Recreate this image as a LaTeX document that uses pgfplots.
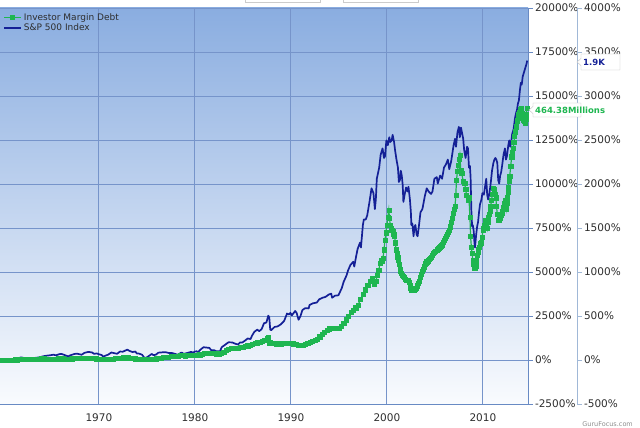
\documentclass[border=0pt]{standalone}
\usepackage{fontspec}
\setmainfont{DejaVu Sans}
\usepackage{pgfplots}
\usepackage{pgfplotstable}
\pgfplotsset{compat=1.18}
\pgfkeys{/pgf/number format/.cd, 1000 sep={}, assume math mode=true}
\definecolor{bgtop}{RGB}{138,173,224}
\definecolor{bgbot}{RGB}{249,251,254}
\definecolor{gridc}{RGB}{118,148,202}
\definecolor{axisc}{RGB}{104,138,196}
\definecolor{raxisc}{RGB}{160,184,215}
\definecolor{spblue}{RGB}{20,32,150}
\definecolor{mdgreen}{RGB}{30,182,80}
\definecolor{txt}{RGB}{45,45,45}
\newcommand\lbl{\fontsize{10.5}{12}\selectfont}

% S&P 500 index level (monthly avg); chart shows % change vs 55.1
\pgfplotstableread{
year idx
1959.7 57.0
1959.9 58.0
1960.1 57.5
1960.3 55.5
1960.5 56.5
1960.8 53.5
1961.0 58.5
1961.3 65.0
1961.6 66.5
1961.9 71.5
1962.1 69.0
1962.3 66.0
1962.5 55.0
1962.7 57.0
1962.8 56.0
1963.0 64.0
1963.3 68.0
1963.6 70.0
1963.9 73.0
1964.2 78.5
1964.5 81.5
1964.9 84.5
1965.3 88.5
1965.5 84.0
1965.9 92.0
1966.1 93.0
1966.4 87.0
1966.8 77.5
1967.0 84.0
1967.4 92.0
1967.7 95.0
1968.2 88.0
1968.5 100.0
1968.9 106.0
1969.3 102.0
1969.5 94.0
1969.8 96.0
1969.95 92.0
1970.3 86.0
1970.45 75.5
1970.7 83.0
1970.95 88.0
1971.3 102.0
1971.6 98.0
1971.9 94.0
1972.2 108.0
1972.5 107.0
1972.95 120.0
1973.2 112.0
1973.5 105.0
1973.8 108.0
1973.95 96.0
1974.2 95.0
1974.5 88.0
1974.75 68.0
1974.95 70.0
1975.3 84.0
1975.5 93.0
1975.7 85.0
1975.95 89.0
1976.2 101.0
1976.6 103.0
1976.95 104.0
1977.3 99.0
1977.6 99.0
1977.9 94.0
1978.2 88.0
1978.6 102.0
1978.85 94.0
1979.2 99.0
1979.6 106.0
1979.85 101.0
1979.95 107.0
1980.2 110.0
1980.3 102.0
1980.6 121.0
1980.9 135.0
1981.2 133.0
1981.5 131.0
1981.7 117.0
1982.0 117.0
1982.2 110.0
1982.6 109.0
1982.8 135.0
1983.0 144.0
1983.5 166.0
1983.9 165.0
1984.2 157.0
1984.5 152.0
1984.7 165.0
1984.95 165.0
1985.3 180.0
1985.5 190.0
1985.8 186.0
1985.95 207.0
1986.2 232.0
1986.5 245.0
1986.7 236.0
1986.95 248.0
1987.2 285.0
1987.45 290.0
1987.65 333.0
1987.75 321.0
1987.85 245.0
1987.95 242.0
1988.3 262.0
1988.6 265.0
1988.95 278.0
1989.3 300.0
1989.6 346.0
1989.8 340.0
1989.95 350.0
1990.1 335.0
1990.45 362.0
1990.6 350.0
1990.8 307.0
1991.0 330.0
1991.2 368.0
1991.5 380.0
1991.85 378.0
1991.95 400.0
1992.3 410.0
1992.7 415.0
1992.95 435.0
1993.3 445.0
1993.6 450.0
1993.95 465.0
1994.2 470.0
1994.3 445.0
1994.6 458.0
1994.95 460.0
1995.3 505.0
1995.5 545.0
1995.8 585.0
1995.95 615.0
1996.2 650.0
1996.5 670.0
1996.6 640.0
1996.8 705.0
1996.95 750.0
1997.2 790.0
1997.3 760.0
1997.5 900.0
1997.6 935.0
1997.8 935.0
1997.95 960.0
1998.2 1050.0
1998.4 1130.0
1998.6 1100.0
1998.75 1000.0
1998.85 1060.0
1998.95 1190.0
1999.2 1260.0
1999.35 1340.0
1999.55 1380.0
1999.7 1320.0
1999.8 1330.0
1999.95 1430.0
2000.1 1400.0
2000.25 1450.0
2000.35 1420.0
2000.5 1430.0
2000.6 1465.0
2000.75 1420.0
2000.85 1370.0
2001.0 1310.0
2001.15 1260.0
2001.25 1170.0
2001.35 1180.0
2001.45 1240.0
2001.55 1210.0
2001.65 1150.0
2001.72 1045.0
2001.85 1090.0
2002.0 1135.0
2002.15 1110.0
2002.25 1140.0
2002.4 1060.0
2002.5 980.0
2002.55 900.0
2002.65 910.0
2002.78 830.0
2002.88 890.0
2002.97 900.0
2003.1 840.0
2003.2 830.0
2003.35 900.0
2003.5 980.0
2003.7 1000.0
2003.95 1080.0
2004.15 1130.0
2004.35 1110.0
2004.6 1095.0
2004.75 1110.0
2004.95 1190.0
2005.2 1200.0
2005.3 1160.0
2005.55 1210.0
2005.75 1190.0
2005.95 1260.0
2006.15 1280.0
2006.35 1310.0
2006.5 1250.0
2006.7 1300.0
2006.95 1400.0
2007.1 1440.0
2007.2 1390.0
2007.35 1480.0
2007.5 1515.0
2007.6 1450.0
2007.72 1510.0
2007.85 1470.0
2007.95 1440.0
2008.05 1370.0
2008.2 1320.0
2008.35 1390.0
2008.45 1380.0
2008.55 1260.0
2008.65 1270.0
2008.72 1200.0
2008.8 990.0
2008.88 890.0
2008.95 900.0
2009.05 860.0
2009.12 790.0
2009.18 760.0
2009.3 840.0
2009.4 890.0
2009.5 920.0
2009.6 980.0
2009.7 1030.0
2009.85 1060.0
2009.95 1100.0
2010.1 1090.0
2010.25 1150.0
2010.35 1190.0
2010.45 1090.0
2010.55 1060.0
2010.65 1090.0
2010.75 1130.0
2010.85 1180.0
2010.95 1240.0
2011.1 1290.0
2011.2 1310.0
2011.3 1320.0
2011.4 1310.0
2011.5 1290.0
2011.6 1180.0
2011.7 1160.0
2011.8 1210.0
2011.9 1230.0
2012.0 1270.0
2012.15 1340.0
2012.3 1380.0
2012.4 1310.0
2012.5 1330.0
2012.65 1400.0
2012.75 1430.0
2012.85 1390.0
2012.95 1420.0
2013.05 1470.0
2013.2 1500.0
2013.35 1570.0
2013.45 1600.0
2013.55 1620.0
2013.65 1660.0
2013.75 1680.0
2013.85 1740.0
2013.95 1790.0
2014.05 1780.0
2014.15 1830.0
2014.25 1850.0
2014.35 1870.0
2014.45 1890.0
2014.55 1910.0
2014.62 1930.0
}\spx

% Investor margin debt (billions); chart shows % change vs 3.22
\pgfplotstableread{
year debt
1959.75 3.22
1960.0 3.3
1960.25 3.2
1960.5 3.1
1960.75 3.1
1961.0 3.3
1961.25 3.6
1961.5 3.9
1961.75 4.1
1962.0 4.3
1962.25 4.2
1962.5 4.0
1962.75 4.0
1963.0 4.3
1963.25 4.6
1963.5 5.0
1963.75 5.3
1964.0 5.6
1964.25 5.5
1964.5 5.4
1964.75 5.3
1965.0 5.3
1965.25 5.4
1965.5 5.3
1965.75 5.5
1966.0 5.6
1966.25 5.5
1966.5 5.4
1966.75 5.2
1967.0 5.3
1967.25 5.6
1967.5 6.0
1967.75 6.2
1968.0 6.4
1968.25 6.5
1968.5 6.7
1968.75 6.8
1969.0 6.6
1969.25 6.3
1969.5 6.0
1969.75 5.6
1970.0 5.2
1970.25 4.8
1970.5 4.5
1970.75 4.3
1971.0 4.4
1971.25 4.8
1971.5 5.3
1971.75 5.8
1972.0 6.5
1972.25 7.1
1972.5 7.5
1972.75 7.8
1973.0 7.6
1973.25 7.0
1973.5 6.3
1973.75 5.7
1974.0 5.2
1974.25 4.8
1974.5 4.3
1974.75 4.0
1975.0 4.0
1975.25 4.3
1975.5 4.7
1975.75 5.1
1976.0 5.6
1976.25 6.3
1976.5 7.0
1976.75 7.7
1977.0 8.3
1977.25 8.9
1977.5 9.5
1977.75 9.9
1978.0 10.2
1978.25 10.8
1978.5 11.5
1978.75 11.3
1979.0 11.2
1979.25 11.5
1979.5 11.8
1979.75 12.2
1980.0 12.5
1980.25 11.8
1980.5 13.0
1980.75 14.5
1981.0 15.5
1981.25 16.0
1981.5 16.0
1981.75 15.5
1982.0 15.2
1982.25 14.8
1982.5 14.5
1982.75 15.5
1983.0 17.5
1983.25 20.5
1983.5 23.0
1983.75 24.2
1984.0 25.0
1984.25 25.2
1984.5 25.5
1984.75 26.2
1985.0 27.0
1985.25 28.2
1985.5 29.5
1985.75 30.8
1986.0 32.0
1986.25 33.5
1986.5 35.0
1986.75 36.3
1987.0 37.5
1987.25 40.0
1987.5 43.0
1987.65 45.0
1987.8 35.0
1988.0 34.0
1988.25 33.5
1988.5 33.2
1988.75 33.0
1989.0 33.2
1989.25 33.5
1989.5 34.0
1989.75 34.5
1990.0 33.8
1990.25 33.0
1990.5 31.5
1990.75 30.5
1991.0 30.6
1991.25 31.0
1991.5 32.5
1991.75 34.0
1992.0 36.0
1992.25 38.0
1992.5 39.5
1992.75 41.0
1993.0 46.0
1993.25 50.0
1993.5 54.0
1993.75 57.5
1994.0 60.5
1994.25 61.0
1994.5 61.0
1994.75 61.0
1995.0 61.0
1995.25 65.0
1995.5 70.0
1995.75 77.0
1996.0 84.0
1996.25 90.0
1996.5 95.0
1996.75 99.0
1997.0 104.0
1997.25 114.0
1997.5 124.0
1997.75 132.0
1998.0 140.0
1998.25 147.0
1998.5 152.0
1998.7 142.0
1998.85 148.0
1999.0 158.0
1999.15 168.0
1999.3 180.7
1999.45 185.0
1999.6 190.0
1999.7 205.0
1999.8 222.8
1999.9 236.0
2000.0 250.0
2000.1 265.0
2000.2 278.0
2000.28 262.0
2000.35 250.0
2000.42 245.0
2000.5 241.0
2000.58 240.0
2000.65 238.0
2000.72 234.0
2000.8 229.0
2000.88 218.0
2000.95 205.0
2001.05 198.0
2001.12 192.0
2001.2 186.0
2001.28 178.0
2001.35 170.0
2001.42 166.0
2001.5 162.0
2001.6 158.0
2001.7 156.0
2001.8 154.0
2001.9 151.0
2002.0 149.6
2002.1 149.0
2002.2 148.5
2002.3 146.0
2002.4 140.0
2002.48 135.0
2002.55 131.0
2002.65 131.5
2002.75 132.0
2002.85 132.0
2002.95 133.0
2003.05 134.0
2003.15 139.0
2003.25 144.0
2003.35 148.0
2003.45 154.0
2003.55 160.0
2003.65 165.0
2003.75 170.0
2003.85 174.0
2003.95 178.0
2004.05 181.0
2004.15 183.0
2004.3 185.0
2004.4 187.0
2004.5 189.0
2004.65 192.0
2004.75 195.0
2004.85 198.0
2004.95 200.0
2005.05 202.0
2005.2 204.0
2005.3 206.0
2005.4 208.0
2005.5 210.0
2005.6 212.0
2005.7 213.0
2005.8 215.0
2005.9 219.0
2006.0 222.0
2006.1 226.0
2006.2 229.0
2006.3 233.0
2006.4 237.0
2006.5 240.0
2006.6 247.0
2006.7 255.0
2006.8 263.0
2006.9 272.0
2007.0 279.0
2007.1 285.0
2007.18 305.0
2007.25 332.0
2007.35 348.0
2007.45 360.0
2007.52 370.0
2007.6 378.0
2007.7 350.0
2007.8 345.0
2007.95 330.0
2008.1 327.0
2008.2 315.0
2008.3 305.0
2008.45 296.0
2008.55 300.0
2008.65 265.0
2008.72 229.0
2008.8 210.0
2008.88 198.0
2008.95 185.0
2009.02 178.0
2009.1 171.5
2009.18 172.0
2009.25 175.0
2009.32 185.0
2009.4 195.0
2009.48 200.0
2009.55 205.0
2009.62 210.0
2009.7 215.0
2009.78 217.0
2009.85 218.0
2009.92 228.0
2010.0 240.0
2010.08 245.0
2010.15 250.0
2010.22 255.0
2010.3 258.0
2010.38 252.0
2010.45 245.0
2010.5 255.0
2010.55 265.0
2010.65 270.0
2010.75 275.0
2010.82 285.0
2010.9 295.0
2010.98 306.0
2011.07 318.0
2011.14 315.0
2011.2 312.0
2011.28 306.0
2011.35 300.0
2011.42 285.0
2011.5 270.0
2011.6 259.0
2011.68 260.0
2011.75 262.0
2011.82 265.0
2011.9 268.0
2011.98 272.0
2012.05 275.0
2012.12 283.0
2012.2 290.0
2012.3 296.0
2012.38 288.0
2012.45 280.0
2012.5 290.0
2012.55 300.0
2012.6 310.0
2012.65 320.0
2012.72 330.0
2012.8 340.0
2012.9 358.0
2013.0 375.0
2013.08 383.0
2013.15 390.0
2013.22 401.0
2013.3 412.0
2013.4 421.0
2013.5 430.0
2013.6 441.0
2013.7 452.0
2013.78 456.0
2013.85 460.0
2013.92 462.0
2014.0 463.0
2014.08 454.0
2014.15 445.0
2014.22 442.0
2014.3 440.0
2014.4 437.0
2014.45 444.0
2014.5 452.0
2014.58 464.38
}\margin

\begin{document}
\begin{tikzpicture}[x=1pt,y=1pt]
\useasboundingbox (0,0) rectangle (640,428);
\draw[black!20, fill=white] (245,426) rectangle (320,440);
\draw[black!20, fill=white] (343,426) rectangle (418,440);

\begin{axis}[
  at={(0pt,24pt)}, anchor=south west,
  scale only axis, width=528pt, height=396pt,
  xmin=1959.7, xmax=2014.7, ymin=-2500, ymax=20000,
  scaled y ticks=false, scaled x ticks=false,
  axis background/.style={shade, top color=bgtop, bottom color=bgbot},
  axis x line*=bottom, axis y line*=right,
  axis line style={axisc, line width=0.9pt, -},
  xtick={1970,1980,1990,2000,2010},
  ytick={-2500,0,2500,5000,7500,10000,12500,15000,17500,20000},
  ytick pos=right, yticklabel pos=right,
  yticklabel={\pgfmathprintnumber{\tick}\%},
  xmajorgrids, ymajorgrids,
  major grid style={gridc, line width=0.8pt},
  tick align=outside,
  xtick style={draw=none},
  ytick style={axisc, line width=0.8pt},
  major tick length=5pt,
  tick label style={font=\lbl, text=txt},
  yticklabel style={xshift=-1.5pt},
  xticklabel style={yshift=-1pt},
  legend style={at={(rel axis cs:0,1)}, anchor=north west, draw=none, fill=none,
    font=\fontsize{9}{10.5}\selectfont, text=txt, xshift=0pt, yshift=-1pt,
    row sep=-2pt},
  legend cell align=left,
]
\addplot[mdgreen, line width=1.2pt, mark=square*, mark size=2.1pt,
  mark options={fill=mdgreen, draw=mdgreen, line width=0.4pt}]
  table[x index=0, y expr={(\thisrowno{1}/3.22-1)*100}] {\margin};
\addlegendentry{Investor Margin Debt}
\addplot[spblue, line width=1.7pt, line join=round]
  table[x index=0, y expr={(\thisrowno{1}/55.1-1)*100*5}] {\spx};
\addlegendentry{S\&P 500 Index}
\end{axis}

\begin{axis}[
  at={(577pt,24pt)}, anchor=south east,
  scale only axis, width=10pt, height=396pt,
  xmin=0, xmax=1, ymin=-500, ymax=4000,
  scaled y ticks=false,
  axis x line=none, axis y line*=right,
  axis line style={raxisc, line width=0.9pt, -},
  ytick={-500,0,500,1000,1500,2000,2500,3000,3500,4000},
  ytick pos=right, yticklabel pos=right,
  yticklabel={\pgfmathprintnumber{\tick}\%},
  tick align=outside, major tick length=5pt,
  ytick style={raxisc, line width=0.8pt},
  tick label style={font=\lbl, text=txt},
  yticklabel style={xshift=-1.5pt},
]
\addplot[draw=none] coordinates {(0,0)};
\end{axis}

% value callouts
\draw[black!25, fill=white] (577,366) -- (581,369.5) -- (581,374) -- (620,374) -- (620,358) -- (581,358) -- (581,362.5) -- cycle;
\node[anchor=west, inner sep=0pt, text=spblue, font=\bfseries\fontsize{8.5}{10}\selectfont] at (583,366) {1.9K};
\draw[black!25, fill=white] (529,318) -- (533,321.5) -- (533,325) -- (581,325) -- (581,311) -- (533,311) -- (533,314.5) -- cycle;
\node[anchor=west, inner sep=0pt, text=mdgreen, font=\bfseries\fontsize{8.5}{10}\selectfont] at (535,318) {464.38Millions};
\node[anchor=east, inner sep=0pt, text=black!45, font=\fontsize{6.5}{8}\selectfont] at (633,4) {GuruFocus.com};
\end{tikzpicture}
\end{document}
